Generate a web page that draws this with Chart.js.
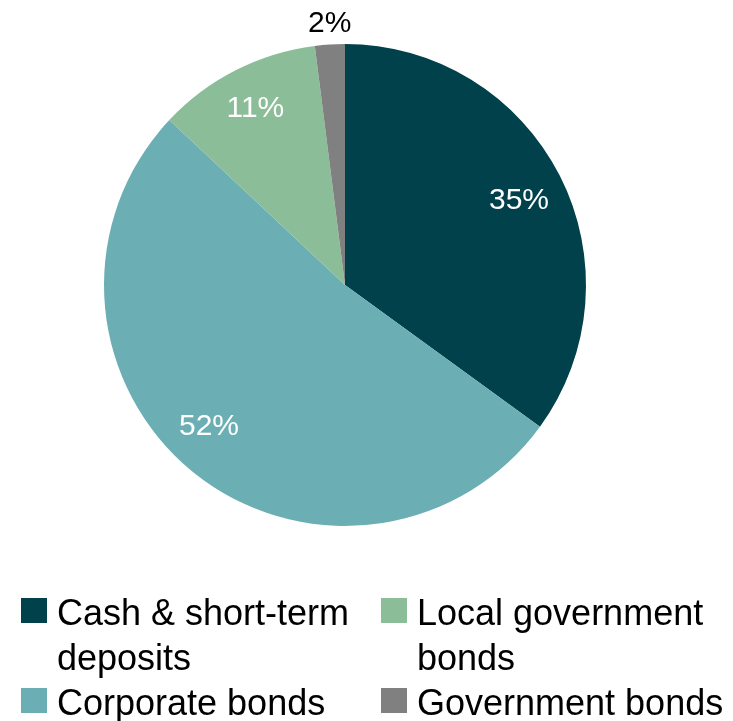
<!DOCTYPE html>
<html>
<head>
<meta charset="utf-8">
<script src="https://cdn.jsdelivr.net/npm/chart.js@4/dist/chart.umd.min.js"></script>
<style>
  html, body { margin: 0; padding: 0; background: #ffffff; }
  #wrap { position: relative; width: 733px; height: 721px; }
  #chart { position: absolute; left: 0; top: 0; }
  #legend {
    position: absolute; left: 21px; top: 590px;
    display: grid; grid-template-columns: 360px auto;
    font-family: "Liberation Sans", Arial, sans-serif;
    font-size: 36px; line-height: 45px; color: #000;
  }
  .item { display: flex; align-items: flex-start; white-space: nowrap; }
  .swatch { width: 26px; height: 25px; margin-top: 8px; margin-right: 10px; flex: none; }
</style>
</head>
<body>
<div id="wrap">
  <canvas id="chart" width="733" height="721"></canvas>
  <div id="legend"></div>
</div>
<script>
// Portfolio allocation by asset class (%)
const categories = [
  ['Cash & short-term', 'deposits'],
  'Corporate bonds',
  ['Local government', 'bonds'],
  'Government bonds'
];
const shares = [35, 52, 11, 2];
const sliceColors = ['#00414b', '#6bafb5', '#8bbd98', '#808080'];

// Percentage label styling and placement per slice:
// colour, distance from centre (fraction of radius, or pixels beyond the rim), small angular nudge in degrees.
const labelColors = ['#ffffff', '#ffffff', '#ffffff', '#000000'];
const labelRadius = [0.806, 0.808, 0.828, null];
const labelOutsideGap = 23;
const labelAngleNudge = [0.6, 4.7, 0.3, 0.3];
const labelDrop = 2;

const FONT = '"Liberation Sans", Arial, sans-serif';

const sliceLabels = {
  id: 'sliceLabels',
  afterDatasetsDraw(chart) {
    const ctx = chart.ctx;
    const meta = chart.getDatasetMeta(0);
    const values = chart.data.datasets[0].data;
    const total = values.reduce((a, b) => a + b, 0);
    ctx.save();
    ctx.font = '30px ' + FONT;
    ctx.textAlign = 'center';
    ctx.textBaseline = 'middle';
    meta.data.forEach((arc, i) => {
      const p = arc.getProps(['x', 'y', 'startAngle', 'endAngle', 'outerRadius'], true);
      const mid = (p.startAngle + p.endAngle) / 2 + labelAngleNudge[i] * Math.PI / 180;
      const r = labelRadius[i] == null ? p.outerRadius + labelOutsideGap : p.outerRadius * labelRadius[i];
      const x = p.x + Math.cos(mid) * r;
      const y = p.y + Math.sin(mid) * r + labelDrop;
      ctx.fillStyle = labelColors[i];
      ctx.fillText(Math.round(values[i] / total * 100) + '%', x, y);
    });
    ctx.restore();
  }
};

const chart = new Chart(document.getElementById('chart'), {
  type: 'pie',
  data: {
    labels: categories,
    datasets: [{
      data: shares,
      backgroundColor: sliceColors,
      borderWidth: 0
    }]
  },
  options: {
    responsive: false,
    animation: false,
    devicePixelRatio: 1,
    layout: { padding: { left: 104, right: 147, top: 44, bottom: 195 } },
    plugins: {
      legend: { display: false },
      tooltip: { enabled: false }
    }
  },
  plugins: [sliceLabels]
});

// Two-column legend built from the chart data: Cash / Local on top, Corporate / Government below.
const legendEl = document.getElementById('legend');
const order = [0, 2, 1, 3];
order.forEach(i => {
  const item = document.createElement('div');
  item.className = 'item';
  const sw = document.createElement('span');
  sw.className = 'swatch';
  sw.style.background = chart.data.datasets[0].backgroundColor[i];
  const txt = document.createElement('span');
  const lab = chart.data.labels[i];
  (Array.isArray(lab) ? lab : [lab]).forEach((line, k) => {
    if (k) txt.appendChild(document.createElement('br'));
    txt.appendChild(document.createTextNode(line));
  });
  item.appendChild(sw);
  item.appendChild(txt);
  legendEl.appendChild(item);
});
</script>
</body>
</html>
